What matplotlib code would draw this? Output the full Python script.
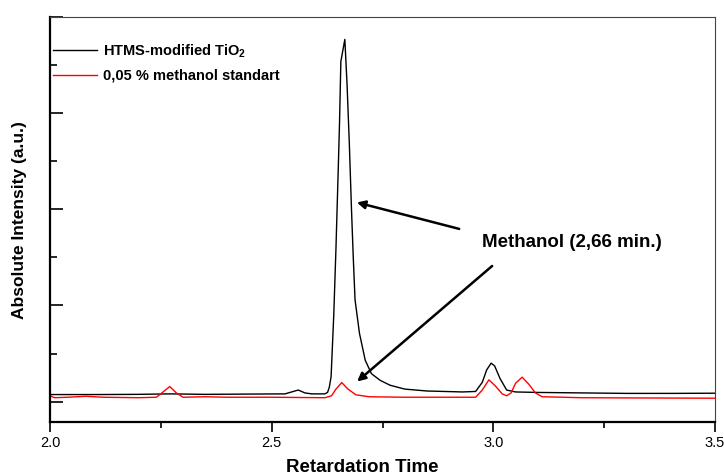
import numpy as np
import matplotlib
matplotlib.use('Agg')
import matplotlib.pyplot as plt
from matplotlib.ticker import MultipleLocator

plt.rcParams['font.family'] = ['Liberation Sans', 'DejaVu Sans']
plt.rcParams['mathtext.fontset'] = 'custom'
plt.rcParams['mathtext.rm'] = 'Liberation Sans:bold'
plt.rcParams['mathtext.bf'] = 'Liberation Sans:bold'

# ---- data ----
t_black = [2.00, 2.10, 2.20, 2.27, 2.35, 2.45, 2.53, 2.545, 2.56, 2.575, 2.59, 2.62,
           2.626, 2.630, 2.634, 2.640, 2.645, 2.650, 2.653, 2.656, 2.665, 2.670,
           2.675, 2.680, 2.684, 2.688, 2.698, 2.711, 2.725, 2.745, 2.767, 2.80,
           2.85, 2.93, 2.96, 2.975, 2.985, 2.995, 3.003, 3.015, 3.03, 3.05,
           3.10, 3.20, 3.30, 3.40, 3.50]
i_black = [0.073, 0.073, 0.075, 0.080, 0.075, 0.078, 0.080, 0.100, 0.120, 0.090, 0.080, 0.080,
           0.095, 0.150, 0.260, 0.900, 1.600, 2.400, 2.900, 3.540, 3.770, 3.300,
           2.700, 2.000, 1.500, 1.060, 0.710, 0.430, 0.290, 0.220, 0.170, 0.130,
           0.110, 0.100, 0.105, 0.200, 0.330, 0.400, 0.370, 0.240, 0.120, 0.100,
           0.095, 0.090, 0.085, 0.085, 0.087]

t_red = [2.00, 2.01, 2.04, 2.08, 2.12, 2.20, 2.24, 2.255, 2.27, 2.285, 2.30, 2.35,
         2.40, 2.50, 2.62, 2.635, 2.645, 2.658, 2.672, 2.69, 2.72, 2.80, 2.90,
         2.96, 2.975, 2.99, 3.005, 3.02, 3.03, 3.04, 3.05, 3.065, 3.08, 3.095,
         3.11, 3.20, 3.30, 3.50]
i_red = [0.060, 0.040, 0.045, 0.055, 0.045, 0.040, 0.045, 0.100, 0.156, 0.090, 0.045, 0.050,
         0.045, 0.045, 0.040, 0.060, 0.130, 0.198, 0.130, 0.070, 0.050, 0.045, 0.045,
         0.045, 0.120, 0.226, 0.160, 0.080, 0.060, 0.090, 0.190, 0.254, 0.180, 0.090,
         0.050, 0.040, 0.038, 0.035]

# ---- plot ----
fig = plt.figure(figsize=(7.24, 4.76), dpi=100)
ax = fig.add_axes([0.0691, 0.114, 0.9185, 0.8497])

ax.plot(t_black, i_black, color='black', lw=1.0, label=r'HTMS-modified TiO$_{2}$')
ax.plot(t_red, i_red, color='red', lw=1.0, label='0,05 % methanol standart')

ax.set_xlim(2.0, 3.5)
ax.set_ylim(-0.21, 4.0)
ax.xaxis.set_major_locator(MultipleLocator(0.5))
ax.xaxis.set_minor_locator(MultipleLocator(0.25))
ax.yaxis.set_major_locator(MultipleLocator(1.0))
ax.yaxis.set_minor_locator(MultipleLocator(0.5))
ax.set_xticks([2.0, 2.5, 3.0, 3.5], ['2.0', '2.5', '3.0', '3.5'])
ax.set_yticklabels([])
ax.tick_params(axis='x', which='major', direction='out', length=7, width=1.2, labelsize=10.5, pad=3.5)
ax.tick_params(axis='x', which='minor', direction='out', length=4, width=1.2)
ax.tick_params(axis='y', which='major', direction='in', length=9, width=1.2)
ax.tick_params(axis='y', which='minor', direction='in', length=5, width=1.2)

for side in ['left', 'bottom']:
    ax.spines[side].set_linewidth(1.6)
for side in ['top', 'right']:
    ax.spines[side].set_linewidth(0.8)
    ax.spines[side].set_color('#444444')

# axis titles placed in figure pixels so they sit where the original has them
fig.text(362 / 724, 1 - 467 / 476, 'Retardation Time', fontsize=13.5, fontweight='bold',
         ha='center', va='center')
fig.text(20 / 724, 1 - 220 / 476, 'Absolute Intensity (a.u.)', fontsize=12.5,
         fontweight='bold', ha='center', va='center', rotation=90)

ax.legend(loc='upper left', bbox_to_anchor=(0.0, 0.945), frameon=False,
          prop={'weight': 'bold', 'size': 10.5}, handlelength=3.0,
          handletextpad=0.4, labelspacing=0.6, borderpad=0, borderaxespad=0.2)

# arrows pointing at the methanol peaks
ax.annotate('', xy=(2.686, 2.08), xytext=(2.929, 1.79),
            arrowprops=dict(arrowstyle='-|>', color='black', lw=1.8, mutation_scale=12))
ax.annotate('', xy=(2.688, 0.19), xytext=(3.002, 1.43),
            arrowprops=dict(arrowstyle='-|>', color='black', lw=1.8, mutation_scale=12))
ax.text(2.975, 1.66, 'Methanol (2,66 min.)', fontsize=13.5, fontweight='bold',
        va='center', ha='left')

fig.savefig('out.png', dpi=100)
